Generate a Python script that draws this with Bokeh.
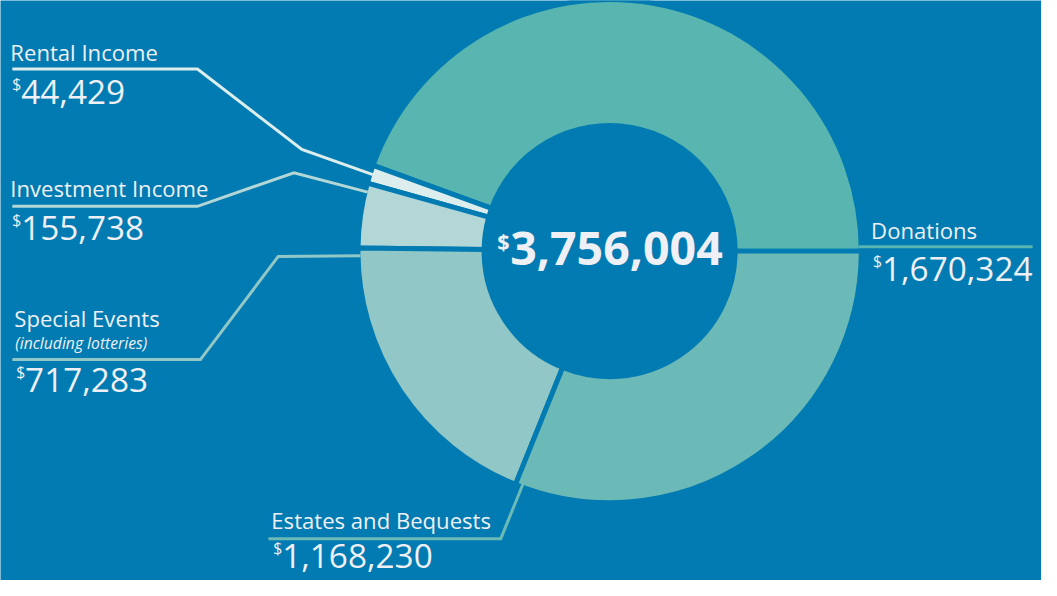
import math
from bokeh.plotting import figure
from bokeh.models import Range1d, ColumnDataSource
from bokeh.core.properties import value
from bokeh.embed import file_html
from bokeh.resources import INLINE

# ---------------- data ----------------
categories = ["Donations", "Rental Income", "Investment Income", "Special Events", "Estates and Bequests"]
amounts = [1670324, 44429, 155738, 717283, 1168230]
subtitles = ["", "", "", "(including lotteries)", ""]
total_amount = sum(amounts)

# ---------------- styles ----------------
slice_colors = ["#58B5B0", "#DCEDED", "#B3D7D6", "#91C7C6", "#6CBAB7"]
BG = "#017BB1"
TEXT = "#EEF0F5"
FONT = "Open Sans"

# ---------------- layout (reference pixel frame, y down) ----------------
REF_W, REF_H = 1057, 596
W, H = 1041, 580
SX, SY = W / REF_W, H / REF_H
FS = 0.98            # font scale
BASE_FIX = 0.39      # empirical alphabetic-baseline correction (em)

def Y(y):
    return REF_H - y

def fpx(size):
    return f"{size * FS:.1f}px"

def base(y, size):
    # data y for a text whose alphabetic baseline should sit at reference y
    return Y(y) + BASE_FIX * size * FS / SY

cx, cy = 618.5, Y(257.5)
R_OUT, R_IN, GAP = 253.0, 130.0, 5.0

label_x = [884, 10, 10, 14, 275]
label_base = [245, 62, 202, 335, 543]
value_base = [289, 107, 247, 403, 584]
sub_base = 358
knots = [
    None,
    [(12, 70.5), (200, 70.5), (306, 153)],
    [(12, 211.5), (200, 211.5), (298, 177)],
    [(12, 369), (203, 369), (282, 263)],
    [(272, 553), (508, 553)],
]
DON_LINE_END = 1048

# ---------------- geometry from data ----------------
starts, ends = [], []
acc = 0.0
for a in amounts:
    starts.append(acc)
    acc += a / total_amount * 2 * math.pi
    ends.append(acc)

p = figure(width=W, height=H, output_backend="svg", toolbar_location=None,
           x_axis_location=None, y_axis_location=None, min_border=0,
           x_range=Range1d(0, REF_W), y_range=Range1d(0, REF_H),
           background_fill_color=BG, border_fill_color=BG, outline_line_color=None)
p.grid.visible = False

src = ColumnDataSource(dict(x=[cx] * len(amounts), y=[cy] * len(amounts),
                            start=starts, end=ends, color=slice_colors, cat=categories))
p.annular_wedge(x="x", y="y", inner_radius=R_IN - GAP / 2, outer_radius=R_OUT + GAP / 2,
                start_angle="start", end_angle="end", fill_color="color",
                line_color=BG, line_width=GAP * SX, source=src)

# leader lines
xs, ys, lc = [], [], []
for i, cat in enumerate(categories):
    if i == 0:
        a = starts[i] + math.radians(1.0)
        ex, ey = cx + R_OUT * math.cos(a), cy + R_OUT * math.sin(a)
        xs.append([ex, DON_LINE_END]); ys.append([ey, ey])
    else:
        a = starts[i] + math.radians(1.8)
        ex, ey = cx + R_OUT * math.cos(a), cy + R_OUT * math.sin(a)
        pts = knots[i]
        xs.append([q[0] for q in pts] + [ex])
        ys.append([Y(q[1]) for q in pts] + [ey])
    lc.append(slice_colors[i])
p.multi_line(xs=xs, ys=ys, line_color=lc, line_width=3, line_join="miter")

# category labels
LAB = 22.5
p.text(x=label_x, y=[base(b, LAB) for b in label_base], text=categories,
       text_font=value(FONT), text_font_size=fpx(LAB), text_color=TEXT,
       text_baseline="alphabetic", text_align="left")
# subtitle
SUB = 16
sub_idx = [i for i, s in enumerate(subtitles) if s]
p.text(x=[label_x[i] + 1 for i in sub_idx], y=[base(sub_base, SUB)] * len(sub_idx),
       text=[subtitles[i] for i in sub_idx],
       text_font=value(FONT), text_font_size=fpx(SUB), text_font_style="italic",
       text_color=TEXT, text_baseline="alphabetic", text_align="left")
# values
DOL, VAL = 16, 34
p.text(x=[x + 2 for x in label_x], y=[base(b - 15, DOL) for b in value_base], text=["$"] * len(amounts),
       text_font=value(FONT), text_font_size=fpx(DOL), text_color=TEXT,
       text_baseline="alphabetic", text_align="left")
p.text(x=[x + 11 for x in label_x], y=[base(b, VAL) for b in value_base],
       text=[f"{a:,}" for a in amounts],
       text_font=value(FONT), text_font_size=fpx(VAL), text_color=TEXT,
       text_baseline="alphabetic", text_align="left")

# total in the middle
TD, TV = 22, 47.5
p.text(x=[cx - 114], y=[base(256, TD)], text=["$"],
       text_font=value(FONT), text_font_size=fpx(TD), text_font_style="bold",
       text_color=TEXT, text_baseline="alphabetic", text_align="left")
p.text(x=[cx - 101], y=[base(273, TV)], text=[f"{total_amount:,}"],
       text_font=value(FONT), text_font_size=fpx(TV), text_font_style="bold",
       text_color=TEXT, text_baseline="alphabetic", text_align="left")

open("out.html", "w").write(file_html(p, INLINE))
